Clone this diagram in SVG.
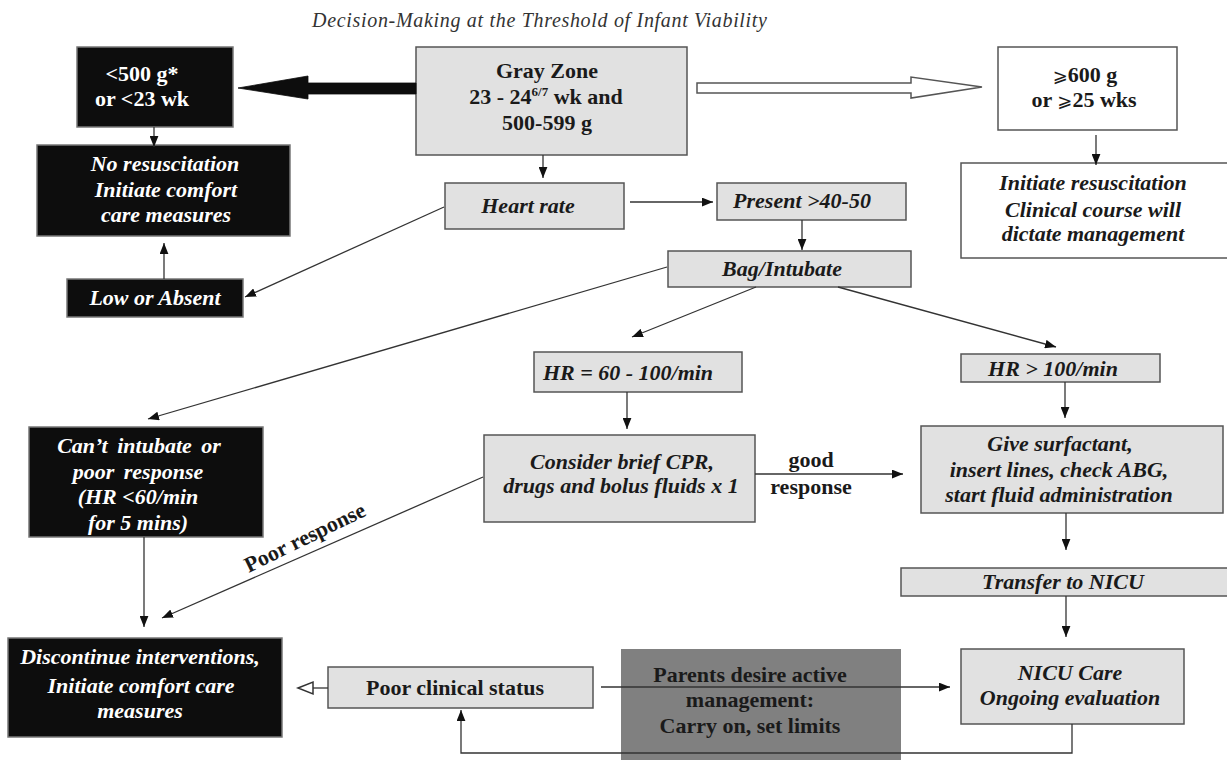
<svg xmlns="http://www.w3.org/2000/svg" width="1227" height="760" viewBox="0 0 1227 760">
<style>
.g{fill:#e1e1e1;stroke:#555;stroke-width:1.5}
.b{fill:#0d0d0d;stroke:#777;stroke-width:1.5}
.w{fill:#fff;stroke:#555;stroke-width:1.5}
.p{fill:#808080;stroke:none}
.t{font-family:"Liberation Serif","Times New Roman",serif;font-size:22px;font-weight:bold;text-anchor:middle;fill:#1a1a1a}
.i{font-style:italic}
.wt{fill:#fff}
.c line,.c path{stroke:#333;stroke-width:1.3;fill:none}
</style>
<defs>
<marker id="a" viewBox="0 0 10 8" refX="10" refY="4" markerWidth="11" markerHeight="9" orient="auto" markerUnits="userSpaceOnUse"><path d="M0,0 L10,4 L0,8z" fill="#111"/></marker>
</defs>
<rect width="1227" height="760" fill="#fff"/>
<text x="312" y="27" font-family="Liberation Serif,serif" font-style="italic" font-size="20" fill="#333" textLength="455">Decision-Making at the Threshold of Infant Viability</text>

<g id="n-lt500"><rect class="b" x="77" y="47" width="156" height="80"/>
<text class="t wt" x="142" y="81">&lt;500 g*</text><text class="t wt" x="142" y="106">or &lt;23 wk</text></g>

<g id="n-gray"><rect class="g" x="416" y="47" width="271" height="108"/>
<text class="t" x="547" y="78">Gray Zone</text>
<text class="t" x="546" y="104">23 - 24<tspan font-size="13" dy="-8">6/7</tspan><tspan dy="8"> wk and</tspan></text>
<text class="t" x="547" y="130">500-599 g</text></g>

<g id="n-ge600"><rect class="w" x="998" y="47" width="179" height="83"/>
<text class="t" x="1085" y="82"><tspan font-family="DejaVu Sans,sans-serif" font-weight="normal" font-size="18">⩾</tspan>600 g</text>
<text class="t" x="1084" y="107">or <tspan font-family="DejaVu Sans,sans-serif" font-weight="normal" font-size="18">⩾</tspan>25 wks</text></g>

<g id="n-nores"><rect class="b" x="37" y="145" width="253" height="91"/>
<text class="t i wt" x="165" y="171">No resuscitation</text>
<text class="t i wt" x="166" y="197">Initiate comfort</text>
<text class="t i wt" x="166" y="222">care measures</text></g>

<g id="n-heart"><rect class="g" x="445" y="183" width="179" height="46"/>
<text class="t i" x="528" y="213">Heart rate</text></g>

<g id="n-present"><rect class="g" x="717" y="183" width="189" height="37"/>
<text class="t i" x="802" y="208">Present &gt;40-50</text></g>

<g id="n-init"><rect class="w" x="961" y="163" width="270" height="95"/>
<text class="t i" x="1093" y="190">Initiate resuscitation</text>
<text class="t i" x="1093" y="217">Clinical course will</text>
<text class="t i" x="1093" y="241">dictate management</text></g>

<g id="n-bag"><rect class="g" x="668" y="251" width="243" height="36"/>
<text class="t i" x="782" y="276">Bag/Intubate</text></g>

<g id="n-low"><rect class="b" x="67" y="279" width="176" height="38"/>
<text class="t i wt" x="155" y="305">Low or Absent</text></g>

<g id="n-hr60"><rect class="g" x="534" y="352" width="208" height="40"/>
<text class="t i" x="628" y="380">HR = 60 - 100/min</text></g>

<g id="n-hr100"><rect class="g" x="961" y="354" width="199" height="28"/>
<text class="t i" x="1053" y="376">HR &gt; 100/min</text></g>

<g id="n-cant"><rect class="b" x="29" y="427" width="234" height="110"/>
<text class="t i wt" x="139" y="453" word-spacing="4">Can’t intubate or</text>
<text class="t i wt" x="138" y="479" word-spacing="4">poor response</text>
<text class="t i wt" x="138" y="504">(HR &lt;60/min</text>
<text class="t i wt" x="138" y="530">for 5 mins)</text></g>

<g id="n-consider"><rect class="g" x="484" y="435" width="271" height="87"/>
<text class="t i" x="622" y="469">Consider brief CPR,</text>
<text class="t i" x="621" y="493">drugs and bolus fluids x 1</text></g>

<g id="n-give"><rect class="g" x="921" y="426" width="302" height="87"/>
<text class="t i" x="1060" y="451">Give surfactant,</text>
<text class="t i" x="1059" y="477">insert lines, check ABG,</text>
<text class="t i" x="1059" y="502">start fluid administration</text></g>

<g id="n-transfer"><rect class="g" x="901" y="568" width="330" height="28"/>
<text class="t i" x="1063" y="589">Transfer to NICU</text></g>

<g id="n-disc"><rect class="b" x="8" y="638" width="274" height="99"/>
<text class="t i wt" x="140" y="664">Discontinue interventions,</text>
<text class="t i wt" x="141" y="693">Initiate comfort care</text>
<text class="t i wt" x="140" y="718">measures</text></g>

<g id="n-poor"><rect class="g" x="328" y="667" width="265" height="41"/>
<text class="t" x="455" y="695">Poor clinical status</text></g>

<g id="n-parents"><rect class="p" x="621" y="649" width="280" height="115"/>
<text class="t" x="750" y="682">Parents desire active</text>
<text class="t" x="750" y="707">management:</text>
<text class="t" x="750" y="733">Carry on, set limits</text></g>

<g id="n-nicu"><rect class="g" x="961" y="649" width="223" height="75"/>
<text class="t i" x="1070" y="680">NICU Care</text>
<text class="t i" x="1070" y="705">Ongoing evaluation</text></g>

<g id="connectors" class="c">
<polygon points="416,83 308,83 308,76 238,88 308,99 308,94 416,94" fill="#0d0d0d" stroke="#0d0d0d" stroke-width="0.8"/>
<polygon points="697,83 911,83 911,77 982,87 911,98 911,93 697,93" fill="#fff" stroke="#555" stroke-width="1.5"/>
<line x1="154" y1="127" x2="154" y2="147" marker-end="url(#a)"/>
<line x1="543" y1="155" x2="543" y2="178" marker-end="url(#a)"/>
<line x1="164" y1="279" x2="164" y2="243" marker-end="url(#a)"/>
<line x1="630" y1="202" x2="713" y2="202" marker-end="url(#a)"/>
<line x1="802" y1="220" x2="802" y2="250" marker-end="url(#a)"/>
<line x1="1096" y1="135" x2="1096" y2="165" marker-end="url(#a)"/>
<line x1="444" y1="207" x2="245" y2="297" marker-end="url(#a)"/>
<line x1="667" y1="267" x2="148" y2="419" marker-end="url(#a)"/>
<line x1="756" y1="287" x2="632" y2="337" marker-end="url(#a)"/>
<line x1="838" y1="287" x2="1056" y2="347" marker-end="url(#a)"/>
<line x1="627" y1="392" x2="627" y2="429" marker-end="url(#a)"/>
<line x1="1065" y1="382" x2="1065" y2="418" marker-end="url(#a)"/>
<line x1="755" y1="474" x2="903" y2="474" marker-end="url(#a)"/>
<line x1="483" y1="477" x2="162" y2="618" marker-end="url(#a)"/>
<line x1="144" y1="537" x2="144" y2="627" marker-end="url(#a)"/>
<line x1="1066" y1="513" x2="1066" y2="550" marker-end="url(#a)"/>
<line x1="1066" y1="596" x2="1066" y2="637" marker-end="url(#a)"/>
<line x1="601" y1="687" x2="950" y2="687" marker-end="url(#a)"/>
<path d="M1072,724 V753 H461 V710" marker-end="url(#a)"/>
<line x1="328" y1="688" x2="313" y2="688"/>
<polygon points="298,688 313,682 313,694" fill="#fff" stroke="#333" stroke-width="1.5"/>
<text class="t" x="811" y="467">good</text>
<text class="t" x="811" y="494">response</text>
<text class="t" x="308" y="544" transform="rotate(-26 308 544)">Poor response</text>
</g>
</svg>
